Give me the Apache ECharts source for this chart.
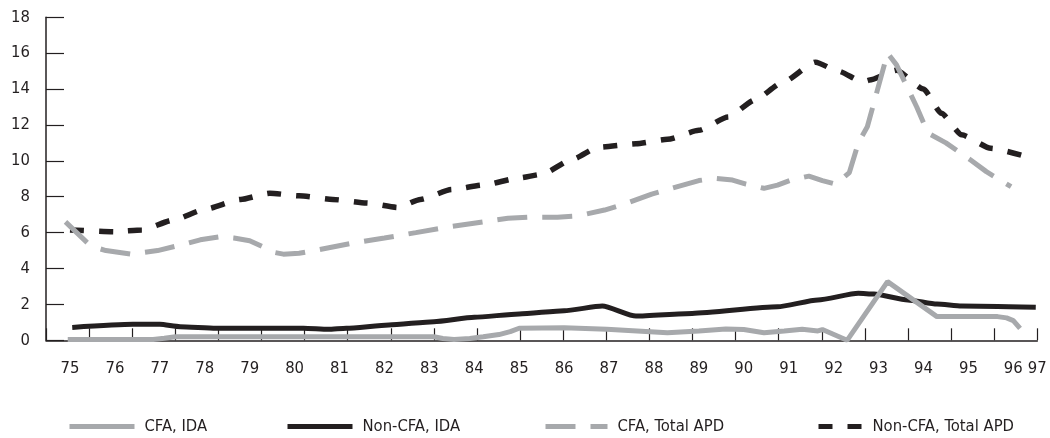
<!DOCTYPE html>
<html>
<head>
<meta charset="utf-8">
<script src="https://cdn.jsdelivr.net/npm/echarts@6/dist/echarts.min.js"></script>
<style>
html,body{margin:0;padding:0;background:#fff;}
#chart{width:1050px;height:438px;}
</style>
</head>
<body>
<div id="chart"></div>
<script>
// ---- data (x = year, 75 = 1975) ----
var seriesNames = ['CFA, IDA', 'Non-CFA, IDA', 'CFA, Total APD', 'Non-CFA, Total APD'];

var cfaIDA = [[74.95,0.05],[76.85,0.05],[77.1,0.12],[77.35,0.2],[83.1,0.2],[83.3,0.1],[83.55,0.05],[83.9,0.1],[84.2,0.2],[84.55,0.32],[84.8,0.48],[85.0,0.67],[86.0,0.7],[86.95,0.61],[88.3,0.42],[89.0,0.52],[89.6,0.63],[90.0,0.6],[90.45,0.42],[90.9,0.52],[91.3,0.61],[91.65,0.52],[91.75,0.6],[92.3,0.0],[93.2,3.27],[94.3,1.32],[95.65,1.32],[95.85,1.25],[96.0,1.1],[96.15,0.67]];

var nonCfaIDA = [[75.05,0.72],[76.4,0.89],[77.0,0.89],[77.45,0.76],[78.25,0.67],[80.2,0.67],[80.75,0.61],[81.15,0.67],[82.1,0.85],[83.1,1.04],[84.0,1.28],[85.0,1.47],[86.0,1.65],[86.85,1.91],[87.6,1.35],[88.85,1.5],[90.75,1.87],[91.65,2.25],[92.55,2.62],[92.9,2.58],[93.65,2.25],[94.3,2.02],[94.85,1.91],[96.5,1.84]];

var cfaAPD = [[74.9,6.6],[75.15,6.0],[75.4,5.4],[75.6,5.15],[75.8,5.0],[76.35,4.8],[76.95,5.0],[77.45,5.3],[77.9,5.6],[78.35,5.77],[78.65,5.7],[79.0,5.55],[79.3,5.2],[79.55,4.9],[79.75,4.8],[80.1,4.85],[80.5,5.03],[81.25,5.4],[82.0,5.7],[82.7,6.0],[83.45,6.33],[84.2,6.6],[84.75,6.8],[85.2,6.86],[85.85,6.86],[86.3,6.93],[86.9,7.26],[87.35,7.6],[87.95,8.15],[88.3,8.4],[89.0,8.9],[89.35,9.03],[89.75,8.93],[90.05,8.7],[90.45,8.47],[90.75,8.65],[91.05,8.93],[91.45,9.15],[91.75,8.9],[92.05,8.7],[92.35,9.35],[92.55,11.0],[92.75,11.9],[93.2,16.0],[93.4,15.35],[93.85,13.0],[94.1,11.55],[94.5,11.0],[95.05,10.05],[95.4,9.4],[95.95,8.56]];

var nonCfaAPD = [[75.0,6.15],[76.0,6.05],[76.6,6.15],[77.3,6.7],[78.0,7.3],[78.8,7.85],[79.45,8.2],[80.1,8.05],[80.85,7.85],[81.6,7.65],[82.3,7.4],[82.8,7.85],[83.5,8.4],[84.2,8.65],[85.0,9.05],[85.5,9.25],[86.2,10.1],[86.75,10.75],[87.6,10.95],[88.3,11.2],[89.0,11.7],[89.65,12.45],[90.25,13.4],[90.85,14.35],[91.6,15.5],[92.1,15.0],[92.65,14.4],[92.8,14.5],[93.4,15.05],[94.0,14.0],[94.4,12.65],[94.85,11.45],[95.5,10.7],[96.4,10.15]];

var xLabels = ['75','76','77','78','79','80','81','82','83','84','85','86','87','88','89','90','91','92','93','94','95','96','97'];
var yTicks = [0,2,4,6,8,10,12,14,16,18];

// ---- chart ----
var GRAY = '#a7a9ac', BLACK = '#231f20';
var FONT = '"Liberation Sans Narrow","DejaVu Sans Condensed","Liberation Sans",sans-serif';
var FS = 16.5;
var xMin = 74.466, xMax = 96.534;
var tickVals = [];
for (var k = 0; k <= 23; k++) tickVals.push(xMin + k * (xMax - xMin) / 23);
var labelVals = [];
for (var i = 0; i < xLabels.length - 1; i++) labelVals.push(Number(xLabels[i]));
labelVals.push(xMax);

function mkLegend(name, left, w) {
  return {
    data: [name], left: left, top: 413, itemWidth: w, itemHeight: 14,
    itemStyle: {opacity: 0},
    lineStyle: {width: 5},
    textStyle: {fontFamily: FONT, fontSize: FS, color: BLACK, padding: [0,0,0,5]},
    selectedMode: false
  };
}

var chart = echarts.init(document.getElementById('chart'), null, {renderer: 'canvas'});
chart.setOption({
  animation: false,
  backgroundColor: '#fff',
  grid: {left: 46, right: 12.7, top: 17.3, bottom: 97.7, containLabel: false},
  legend: [
    mkLegend(seriesNames[0], 62, 65),
    mkLegend(seriesNames[1], 280, 65),
    mkLegend(seriesNames[2], 538, 62),
    mkLegend(seriesNames[3], 811, 44)
  ],
  xAxis: {
    type: 'value', min: xMin, max: xMax,
    axisLine: {show: true, lineStyle: {color: BLACK, width: 1.5}},
    axisTick: {show: true, inside: true, length: 12, customValues: tickVals, lineStyle: {color: BLACK, width: 1.2}},
    axisLabel: {
      show: true, customValues: labelVals, margin: 20,
      fontFamily: FONT, fontSize: FS, color: BLACK,
      formatter: function (v) { return xLabels[Math.round(v) - 75]; }
    },
    splitLine: {show: false}
  },
  yAxis: {
    type: 'value', min: 0, max: 18, interval: 2,
    axisLine: {show: true, lineStyle: {color: BLACK, width: 1.5}},
    axisTick: {show: true, inside: true, length: 18, lineStyle: {color: BLACK, width: 1.2}},
    axisLabel: {
      margin: 16, fontFamily: FONT, fontSize: FS, color: BLACK,
      formatter: function (v) { return yTicks.indexOf(v) >= 0 ? String(v) : ''; }
    },
    splitLine: {show: false}
  },
  series: [
    {name: seriesNames[3], type: 'line', data: nonCfaAPD, showSymbol: false, symbol: 'none',
     smooth: 0.2, smoothMonotone: 'x', color: BLACK,
     lineStyle: {color: BLACK, width: 5.5, type: [14, 15]}, z: 2},
    {name: seriesNames[2], type: 'line', data: cfaAPD, showSymbol: false, symbol: 'none',
     smooth: false, color: GRAY,
     lineStyle: {color: GRAY, width: 5, type: [30, 15]}, z: 3},
    {name: seriesNames[1], type: 'line', data: nonCfaIDA, showSymbol: false, symbol: 'none',
     smooth: 0.2, smoothMonotone: 'x', color: BLACK,
     lineStyle: {color: BLACK, width: 5}, z: 4},
    {name: seriesNames[0], type: 'line', data: cfaIDA, showSymbol: false, symbol: 'none',
     smooth: false, color: GRAY,
     lineStyle: {color: GRAY, width: 5}, z: 5}
  ]
});
</script>
</body>
</html>
